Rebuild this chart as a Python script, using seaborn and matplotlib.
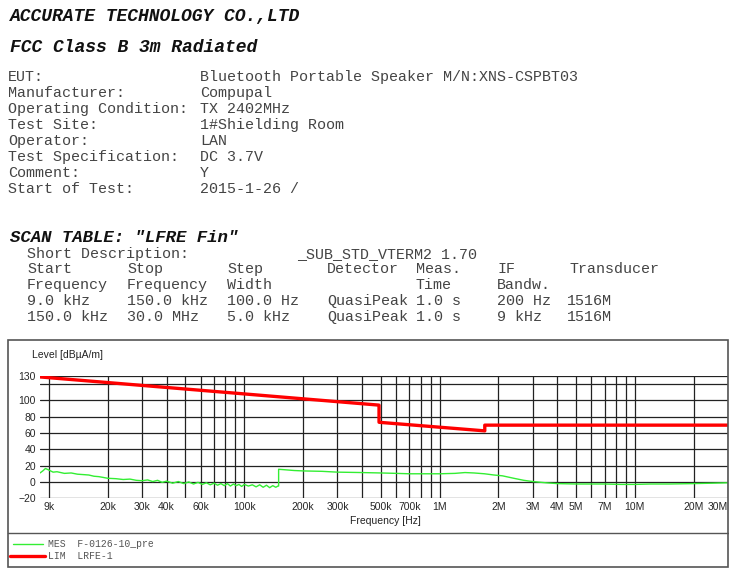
import numpy as np
import pandas as pd
import matplotlib
matplotlib.use("Agg")
import matplotlib.pyplot as plt
import seaborn as sns

# header info
company = "ACCURATE TECHNOLOGY CO.,LTD"
report_title = "FCC Class B 3m Radiated"
info_keys = ["EUT:", "Manufacturer:", "Operating Condition:", "Test Site:",
             "Operator:", "Test Specification:", "Comment:", "Start of Test:"]
info_vals = ["Bluetooth Portable Speaker M/N:XNS-CSPBT03", "Compupal", "TX 2402MHz",
             "1#Shielding Room", "LAN", "DC 3.7V", "Y", "2015-1-26 /"]

# scan table
scan_title = 'SCAN TABLE: "LFRE Fin"'
scan_rows = [
    ["Start", "Stop", "Step", "Detector", "Meas.", "IF", "Transducer"],
    ["Frequency", "Frequency", "Width", "", "Time", "Bandw.", ""],
    ["9.0 kHz", "150.0 kHz", "100.0 Hz", "QuasiPeak", "1.0 s", "200 Hz", "1516M"],
    ["150.0 kHz", "30.0 MHz", "5.0 kHz", "QuasiPeak", "1.0 s", "9 kHz", "1516M"],
]

# limit line (LIM LRFE-1)
lim_freq = [9e3, 490e3, 490e3, 1.705e6, 1.705e6, 30e6]
lim_level = [128.5, 94.0, 73.0, 62.5, 69.5, 69.5]

mes_freq = [9.0e3, 9.3e3, 9.6e3, 9.9e3, 10.5e3, 11e3, 12e3, 13e3, 14e3, 15e3,
            16e3, 17e3, 18e3, 19e3, 20e3, 22e3, 24e3, 26e3, 28e3, 30e3,
            32e3, 34e3, 36e3, 38e3, 40e3, 43e3, 46e3, 49e3, 52e3, 55e3,
            58e3, 61e3, 64e3, 67e3, 70e3, 73e3, 76e3, 79e3, 82e3, 85e3,
            88e3, 91e3, 94e3, 97e3, 100e3, 105e3, 110e3, 115e3, 120e3, 125e3,
            130e3, 135e3, 140e3, 145e3, 149e3, 150e3, 150e3, 160e3, 180e3, 200e3,
            250e3, 300e3, 400e3, 500e3, 600e3, 700e3, 800e3, 1.0e6, 1.2e6, 1.35e6,
            1.5e6, 1.7e6, 1.9e6, 2.1e6, 2.4e6, 2.7e6, 3.0e6, 3.5e6, 4.0e6, 5.0e6,
            6.0e6, 7.0e6, 8.5e6, 10e6, 12e6, 15e6, 20e6, 25e6, 30e6]
mes_level = [11.0, 13.5, 16.5, 15.0, 12.0, 12.5, 10.5, 11.0, 9.5, 9.0,
             8.5, 7.0, 6.5, 5.5, 4.5, 4.0, 3.0, 3.5, 2.0, 1.5,
             2.5, 0.5, 2.0, -0.5, 1.0, -1.5, 0.5, -2.0, 0.0, -2.5,
             -0.5, -3.0, -1.0, -3.5, -1.5, -4.0, -2.0, -4.5, -2.0, -5.0,
             -2.5, -4.5, -3.0, -5.5, -3.0, -5.0, -3.5, -6.0, -3.5, -6.5,
             -4.0, -7.0, -4.5, -6.5, -5.0, -5.0, 15.5, 15.0, 14.0, 13.5,
             13.0, 12.0, 11.5, 11.0, 10.5, 10.0, 10.0, 10.0, 10.5, 11.5,
             11.0, 10.0, 8.5, 7.5, 4.5, 2.0, 0.5, -1.0, -2.0, -2.5,
             -2.5, -2.5, -3.0, -3.0, -2.5, -2.5, -2.0, -1.5, -1.0]

x_tick_pos = [1e4, 2e4, 3e4, 4e4, 6e4, 1e5, 2e5, 3e5, 5e5, 7e5, 1e6,
              2e6, 3e6, 4e6, 5e6, 7e6, 1e7, 2e7, 3e7]
x_tick_lab = ["9k", "20k", "30k", "40k", "60k", "100k", "200k", "300k", "500k",
              "700k", "1M", "2M", "3M", "4M", "5M", "7M", "10M", "20M", "30M"]
x_minor_pos = [5e4, 7e4, 8e4, 9e4, 4e5, 6e5, 8e5, 9e5, 6e6, 8e6, 9e6]
y_tick_pos = [-20, 0, 20, 40, 60, 80, 100, 130]

lim_df = pd.DataFrame({"freq": lim_freq, "level": lim_level})
mes_df = pd.DataFrame({"freq": mes_freq, "level": mes_level})

sns.set_style("white")
plt.rcParams["font.family"] = ["Liberation Sans", "DejaVu Sans"]

W, H = 729, 572
fig = plt.figure(figsize=(W / 100, H / 100), dpi=100)


def px(x, y):
    return x / W, 1 - y / H


mono = "Liberation Mono"

# header
fig.text(*px(10, 17), company, family=mono, weight="bold", style="italic",
         fontsize=13, va="center", color="#111111")
fig.text(*px(10, 48), report_title, family=mono, weight="bold", style="italic",
         fontsize=13, va="center", color="#111111")
for i, (k, v) in enumerate(zip(info_keys, info_vals)):
    yy = 77 + 16 * i
    fig.text(*px(8, yy), k, family=mono, fontsize=10.8, va="center", color="#444444")
    fig.text(*px(200, yy), v, family=mono, fontsize=10.8, va="center", color="#444444")

# scan table
fig.text(*px(10, 238), scan_title, family=mono, weight="bold", style="italic",
         fontsize=12.5, va="center", color="#111111")
fig.text(*px(27, 254), "Short Description:", family=mono, fontsize=10.8,
         va="center", color="#444444")
fig.text(*px(297, 254), "_SUB_STD_VTERM2 1.70", family=mono, fontsize=10.8,
         va="center", color="#444444")
col_x = [27, 127, 227, 327, 416, 497, 570]
for r, row in enumerate(scan_rows):
    yy = 269 + 16 * r
    for c, cell in enumerate(row):
        xx = col_x[c]
        if r >= 2 and c == 6:
            xx = 567
        fig.text(*px(xx, yy), cell, family=mono, fontsize=10.8, va="center",
                 color="#444444")

# chart frame
frame = plt.Rectangle((8 / W, 1 - 567 / H), (W - 9) / W, (567 - 340) / H,
                      transform=fig.transFigure, fill=False, ec="#555555", lw=1.2)
fig.add_artist(frame)
fig.add_artist(plt.Line2D([8 / W, 1], [1 - 533 / H] * 2, transform=fig.transFigure,
                          color="#555555", lw=1.0))

ax = fig.add_axes([40 / W, 1 - 498.3 / H, (728 - 40) / W, (498.3 - 375.7) / H])
ax.set_xscale("log")
sns.lineplot(data=mes_df, x="freq", y="level", ax=ax, estimator=None, sort=False,
             color="#33ee33", lw=1.0)
sns.lineplot(data=lim_df, x="freq", y="level", ax=ax, estimator=None, sort=False,
             color="#ff0000", lw=2.4)
ax.set_xlim(9e3, 30e6)
ax.set_ylim(-20, 130)
ax.set_xticks(x_tick_pos)
ax.set_xticklabels(x_tick_lab)
ax.set_xticks(x_minor_pos, minor=True)
ax.set_yticks(y_tick_pos)
ax.set_yticks([120], minor=True)
ax.tick_params(which="both", length=0, labelsize=7.5, pad=3)
ax.get_xticklabels()[-1].set_horizontalalignment("right")
ax.grid(which="both", color="#222222", lw=0.9)
ax.set_axisbelow(True)
for s in ax.spines.values():
    s.set_visible(False)
ax.set_xlabel("")
ax.set_ylabel("")

fig.text(*px(32, 355), "Level [dBµA/m]", fontsize=7.5, va="center", color="#222222")
fig.text(*px(385, 521), "Frequency [Hz]", fontsize=7.5, va="center", ha="center",
         color="#222222")

# legend
fig.add_artist(plt.Line2D([13 / W, 43 / W], [1 - 544 / H] * 2,
                          transform=fig.transFigure, color="#33ee33", lw=1.0))
fig.add_artist(plt.Line2D([10 / W, 45 / W], [1 - 556 / H] * 2,
                          transform=fig.transFigure, color="#ff0000", lw=2.4))
fig.text(*px(48, 544), "MES  F-0126-10_pre", family=mono, fontsize=7,
         va="center", color="#555555")
fig.text(*px(48, 556), "LIM  LRFE-1", family=mono, fontsize=7,
         va="center", color="#555555")

fig.savefig("out.png", dpi=100)
